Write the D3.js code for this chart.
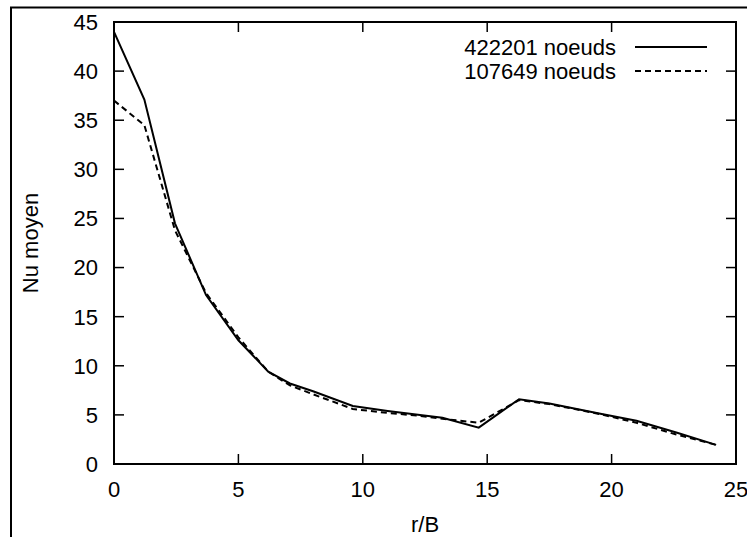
<!DOCTYPE html>
<html>
<head>
<meta charset="utf-8">
<script src="https://cdn.jsdelivr.net/npm/d3@7"></script>
<style>
  body { margin: 0; background: #fff; overflow: hidden; }
  text { font-family: "Liberation Sans", Arial, sans-serif; fill: #000; }
</style>
</head>
<body>
<script>
// r/B positions and mean Nusselt values for both meshes
const rB = [0, 1.22, 2.45, 3.7, 5.0, 6.2, 7.07, 8.0, 9.6, 11.0, 12.3, 13.2, 14.66, 16.28, 17.5, 19.5, 21.0, 22.6, 24.2];
const nuFine = [44, 37.1, 24.5, 17.2, 12.6, 9.4, 8.2, 7.4, 5.9, 5.4, 5.0, 4.7, 3.7, 6.6, 6.15, 5.15, 4.4, 3.2, 1.95];
const nuCoarse = [37, 34.5, 23.8, 17.4, 12.9, 9.4, 8.0, 7.1, 5.6, 5.2, 4.9, 4.6, 4.2, 6.5, 6.1, 5.1, 4.2, 3.0, 1.95];
const seriesNames = ["422201 noeuds", "107649 noeuds"];
const xTicks = [0, 5, 10, 15, 20, 25];
const yTicks = [0, 5, 10, 15, 20, 25, 30, 35, 40, 45];

const width = 747, height = 537;
const plotLeft = 114, plotRight = 736, plotTop = 22, plotBottom = 464;
const fontSize = "22px";

const svg = d3.select("body").append("svg")
  .attr("width", width)
  .attr("height", height);

// outer frame (partially out of view)
svg.append("path")
  .attr("d", `M11,${height + 5}V7.5H${width + 5}`)
  .attr("fill", "none")
  .attr("stroke", "#000")
  .attr("stroke-width", 2);

const x = d3.scaleLinear().domain([0, 25]).range([plotLeft, plotRight]);
const y = d3.scaleLinear().domain([0, 45]).range([plotBottom, plotTop]);

// ticks, mirrored on all sides like gnuplot
const tickLen = 10;
xTicks.forEach(t => {
  svg.append("line").attr("x1", x(t)).attr("x2", x(t)).attr("y1", plotBottom).attr("y2", plotBottom - tickLen)
    .attr("stroke", "#000").attr("stroke-width", 1.5);
  svg.append("line").attr("x1", x(t)).attr("x2", x(t)).attr("y1", plotTop).attr("y2", plotTop + tickLen)
    .attr("stroke", "#000").attr("stroke-width", 1.5);
  svg.append("text")
    .attr("x", x(t)).attr("y", 497)
    .attr("text-anchor", "middle")
    .attr("font-size", fontSize)
    .text(t);
});
yTicks.forEach(t => {
  svg.append("line").attr("x1", plotLeft).attr("x2", plotLeft + tickLen).attr("y1", y(t)).attr("y2", y(t))
    .attr("stroke", "#000").attr("stroke-width", 1.5);
  svg.append("line").attr("x1", plotRight).attr("x2", plotRight - tickLen).attr("y1", y(t)).attr("y2", y(t))
    .attr("stroke", "#000").attr("stroke-width", 1.5);
  svg.append("text")
    .attr("x", 98).attr("y", y(t))
    .attr("dy", "0.36em")
    .attr("text-anchor", "end")
    .attr("font-size", fontSize)
    .text(t);
});

// plot border
svg.append("rect")
  .attr("x", plotLeft).attr("y", plotTop)
  .attr("width", plotRight - plotLeft).attr("height", plotBottom - plotTop)
  .attr("fill", "none")
  .attr("stroke", "#000")
  .attr("stroke-width", 2);

const line = d3.line()
  .x((d, i) => x(rB[i]))
  .y(d => y(d));

const dashes = [null, "6,4"];
[nuFine, nuCoarse].forEach((vals, k) => {
  svg.append("path")
    .attr("d", line(vals))
    .attr("fill", "none")
    .attr("stroke", "#000")
    .attr("stroke-width", 2)
    .attr("stroke-dasharray", dashes[k]);

  // legend entry
  const ly = 47 + k * 24;
  svg.append("text")
    .attr("x", 616).attr("y", ly)
    .attr("dy", "0.36em")
    .attr("text-anchor", "end")
    .attr("font-size", fontSize)
    .text(seriesNames[k]);
  svg.append("line")
    .attr("x1", 635).attr("x2", 707).attr("y1", ly).attr("y2", ly)
    .attr("stroke", "#000")
    .attr("stroke-width", 2)
    .attr("stroke-dasharray", dashes[k]);
});

// axis titles
svg.append("text")
  .attr("transform", `translate(38,${(plotTop + plotBottom) / 2}) rotate(-90)`)
  .attr("text-anchor", "middle")
  .attr("font-size", fontSize)
  .text("Nu moyen");
svg.append("text")
  .attr("x", (plotLeft + plotRight) / 2).attr("y", 532)
  .attr("text-anchor", "middle")
  .attr("font-size", fontSize)
  .text("r/B");
</script>
</body>
</html>
